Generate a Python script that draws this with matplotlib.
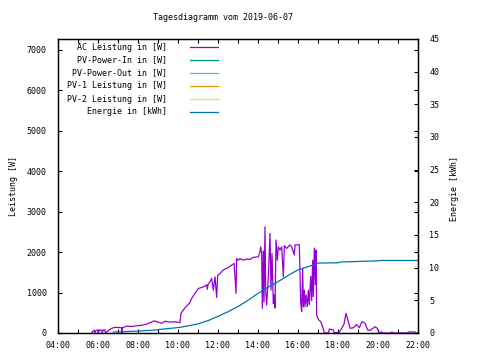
import numpy as np
import matplotlib
matplotlib.use('Agg')
import matplotlib.pyplot as plt
from matplotlib.ticker import MultipleLocator, FuncFormatter

# AC-Leistung in W (Zeit als "HH:MM")
ac_zeit = ['05:41', '05:44', '05:49', '05:50', '05:54', '05:59', '06:00', '06:04', '06:11',
           '06:12', '06:16', '06:21', '06:22', '06:36', '06:41', '06:51', '07:11', '07:12',
           '07:13', '07:26', '07:41', '07:56', '08:11', '08:26', '08:38', '08:48', '09:01',
           '09:11', '09:21', '09:36', '09:51', '10:06', '10:09', '10:16', '10:24', '10:34',
           '10:41', '10:51', '11:01', '11:16', '11:26', '11:28', '11:30', '11:36', '11:41',
           '11:46', '11:51', '11:56', '11:59', '12:06', '12:16', '12:31', '12:41', '12:48',
           '12:51', '12:54', '12:56', '13:01', '13:06', '13:16', '13:26', '13:36', '13:46',
           '14:01', '14:06', '14:08', '14:11', '14:13', '14:16', '14:18', '14:21', '14:23',
           '14:26', '14:31', '14:36', '14:39', '14:42', '14:46', '14:49', '14:51', '14:54',
           '14:58', '15:01', '15:06', '15:11', '15:16', '15:19', '15:26', '15:36', '15:41',
           '15:49', '15:51', '16:04', '16:08', '16:11', '16:14', '16:16', '16:19', '16:21',
           '16:24', '16:28', '16:31', '16:34', '16:38', '16:41', '16:44', '16:46', '16:49',
           '16:52', '16:54', '16:56', '17:01', '17:08', '17:14', '17:18', '17:21', '17:31',
           '17:34', '17:46', '17:49', '18:04', '18:11', '18:18', '18:24', '18:27', '18:31',
           '18:36', '18:46', '18:56', '19:04', '19:12', '19:21', '19:29', '19:36', '19:51',
           '19:58', '20:04', '20:11', '20:14', '20:38', '20:41', '20:48', '21:28', '21:31',
           '21:51', '21:54', '22:00']
ac_wert = [0, 40, 66, 0, 66, 70, 0, 72, 74, 0, 74, 80, 0, 90, 115, 140, 130, 0,
           130, 170, 160, 180, 190, 220, 260, 300, 270, 240, 290, 270, 280, 255, 485, 570,
           650, 730, 855, 980, 1100, 1140, 1190, 1080, 1200, 1270, 1350, 1060, 1390, 880,
           1430, 1470, 1560, 1620, 1680, 1720, 1390, 980, 1840, 1800, 1840, 1800, 1830, 1820,
           1870, 1885, 2010, 2130, 1970, 610, 2030, 770, 2625, 1060, 690, 1390, 2460, 1060,
           1970, 730, 940, 615, 2300, 1800, 2130, 2050, 2130, 1390, 2160, 2090, 2180, 2130,
           1930, 2180, 2180, 770, 530, 1600, 650, 1060, 650, 940, 650, 1060, 700, 1400, 800,
           1800, 900, 2100, 1200, 2050, 440, 337, 280, 156, 33, 0, 0, 100, 75, 0, 25, 115,
           220, 486, 400, 280, 115, 130, 210, 130, 280, 240, 75, 60, 156, 115, 0, 25, 0, 0,
           25, 0, 0, 25, 25, 0, 0]

# Energie in kWh
en_zeit = ['06:46', '08:00', '08:50', '09:15', '09:45', '10:10', '10:30', '11:00', '11:30',
           '12:00', '12:30', '13:00', '13:30', '14:00', '14:30', '15:00', '15:30', '16:00',
           '16:15', '16:30', '16:45', '17:00', '18:00', '18:10', '19:00', '20:00', '20:10',
           '22:00']
en_wert = [0.15, 0.3, 0.45, 0.6, 0.75, 0.9, 1.1, 1.4, 1.9, 2.55, 3.25, 4.05, 5.0, 6.05,
           7.0, 7.85, 8.8, 9.65, 9.9, 10.15, 10.4, 10.7, 10.75, 10.87, 10.95, 11.05, 11.1, 11.1]

legende = ['AC Leistung in [W]', 'PV-Power-In in [W]', 'PV-Power-Out in [W]',
           'PV-1 Leistung in [W]', 'PV-2 Leistung in [W]', 'Energie in [kWh]']
farben = ['#9400d3', '#009e73', '#56b4e9', '#e69f00', '#f0e442', '#0072b2']


def zu_stunden(liste):
    return np.array([int(s[:2]) + int(s[3:]) / 60 for s in liste])


plt.rcParams['font.family'] = 'DejaVu Sans Mono'
plt.rcParams['font.size'] = 6

fig = plt.figure(figsize=(4.8, 3.6), dpi=100)
ax = fig.add_axes([58 / 480, 27 / 360, 360 / 480, 294 / 360])
ax2 = ax.twinx()

ax.plot(zu_stunden(ac_zeit), ac_wert, color=farben[0], lw=0.9)
ax2.plot(zu_stunden(en_zeit), en_wert, color=farben[5], lw=0.9)

ax.set_xlim(4, 22)
ax.set_ylim(0, 7270)
ax2.set_ylim(0, 45)

ax.xaxis.set_major_locator(MultipleLocator(2))
ax.xaxis.set_minor_locator(MultipleLocator(1))
ax.xaxis.set_major_formatter(FuncFormatter(lambda v, p: f'{int(v):02d}:00'))
ax.yaxis.set_major_locator(MultipleLocator(1000))
ax2.yaxis.set_major_locator(MultipleLocator(5))

ax.tick_params(which='both', direction='in', top=True, right=True, length=3, width=0.8,
               pad=6)
ax.tick_params(axis='y', pad=8)
ax2.tick_params(direction='in', length=3, width=0.8, pad=8)
for a in (ax, ax2):
    for s in a.spines.values():
        s.set_linewidth(0.9)

ax.set_ylabel('Leistung [W]')
ax2.set_ylabel('Energie [kWh]')
ax.yaxis.set_label_coords(-0.11, 0.5)
ax2.yaxis.set_label_coords(1.09, 0.49)
fig.text(223 / 480, 1 - 18 / 360, 'Tagesdiagramm vom 2019-06-07', ha='center', va='center')

# Legende wie bei gnuplot: Text rechtsbündig, Linie rechts daneben
for i, (name, c) in enumerate(zip(legende, farben)):
    y = 1 - (47 + 13 * i - 39) / 294
    ax.text(109 / 360, y, name, transform=ax.transAxes, ha='right', va='center')
    ax.plot([132 / 360, 160 / 360], [y, y], transform=ax.transAxes, color=c, lw=0.9)

fig.savefig('out.png', dpi=100)
